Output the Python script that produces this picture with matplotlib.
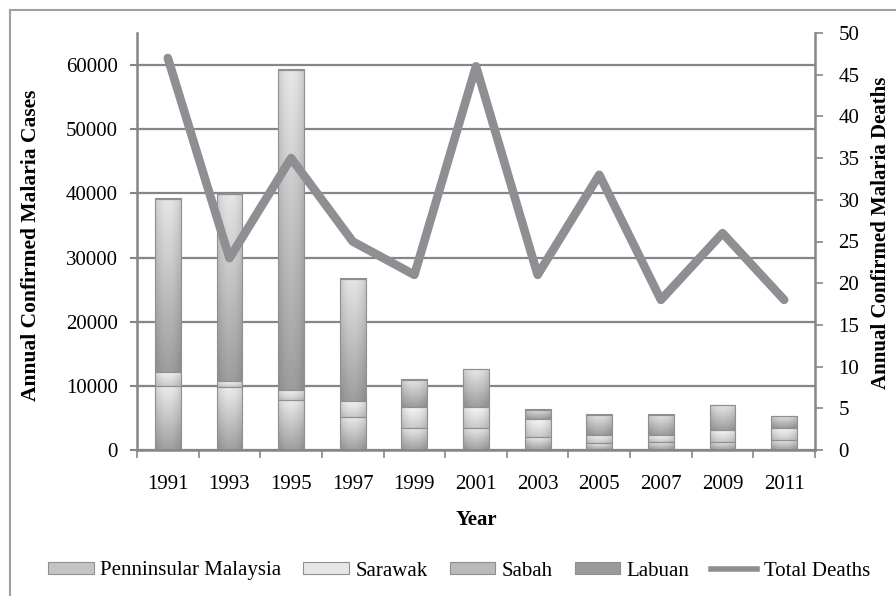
import numpy as np
import matplotlib
matplotlib.use("Agg")
import matplotlib.pyplot as plt
from matplotlib.patches import Rectangle
from matplotlib.lines import Line2D

years = ["1991", "1993", "1995", "1997", "1999", "2001", "2003", "2005", "2007", "2009", "2011"]
peninsular = [9900, 9800, 7800, 5200, 3470, 3470, 1980, 1040, 1300, 1300, 1560]
sarawak = [2200, 900, 1600, 2500, 3170, 3270, 2800, 1290, 1030, 1810, 1810]
sabah = [27050, 29280, 49900, 19020, 4300, 5900, 1510, 3190, 3190, 3860, 1900]
labuan = [150, 120, 100, 80, 60, 60, 40, 30, 30, 30, 20]
deaths = [47, 23, 35, 25, 21, 46, 21, 33, 18, 26, 18]

series_names = ["Penninsular Malaysia", "Sarawak", "Sabah", "Labuan"]

plt.rcParams['font.family'] = ['Liberation Serif', 'DejaVu Serif']

fig = plt.figure(figsize=(8.96, 5.96), dpi=100)
ax = fig.add_axes([137/896, 1-450/596, 678/896, 417/596])
ax2 = ax.twinx()

gray = '#868686'
x = np.arange(len(years))
bw = 0.42

grads = {
    0: ('#ececec', '#a0a0a0'),
    1: ('#f6f6f6', '#cacaca'),
    2: ('#e6e6e6', '#9e9e9e'),
    3: ('#bdbdbd', '#7a7a7a'),
}

def hex2rgb(h):
    return np.array([int(h[i:i+2], 16) / 255 for i in (1, 3, 5)])

bottom = np.zeros(len(years))
all_series = [peninsular, sarawak, sabah, labuan]
for si, vals in enumerate(all_series):
    vals = np.array(vals, dtype=float)
    bars = ax.bar(x, vals, bw, bottom=bottom, color='none', edgecolor='#8f8f8f',
                  linewidth=0.8, zorder=3)
    top_c, bot_c = hex2rgb(grads[si][0]), hex2rgb(grads[si][1])
    for b in bars:
        x0, y0 = b.get_x(), b.get_y()
        w, h = b.get_width(), b.get_height()
        if h <= 0:
            continue
        t = np.linspace(0, 1, 64)[:, None]
        s = np.linspace(-1, 1, 32)[None, :]
        hshade = 1 - 0.12 * (s ** 2)
        col = (bot_c[None, None, :] * (1 - t[..., None]) + top_c[None, None, :] * t[..., None])
        col = col * hshade[..., None]
        col = np.clip(col, 0, 1)
        im = ax.imshow(col, extent=[x0, x0 + w, y0, y0 + h], origin='lower',
                       aspect='auto', zorder=2.5, interpolation='bilinear')
        im.set_clip_path(b)
    bottom = bottom + vals

ax.set_xlim(-0.5, len(years) - 0.5)
ax.set_ylim(0, 65000)
ax.set_yticks(np.arange(0, 60001, 10000))
ax.set_yticklabels([str(v) for v in range(0, 60001, 10000)])
ax.yaxis.grid(True, color=gray, linewidth=1.6, zorder=0)
ax.set_axisbelow(True)

ax.set_xticks(x)
ax.set_xticklabels(years)
ax.set_xticks(np.arange(-0.5, len(years), 1), minor=True)
ax.tick_params(axis='x', which='major', length=0, pad=18, labelsize=15)
ax.tick_params(axis='x', which='minor', length=6, width=1.2, color=gray, direction='out')
ax.tick_params(axis='y', which='major', length=10, width=1.5, color=gray, direction='inout',
               labelsize=15, pad=9)

ax2.plot(x, deaths, color='#8e8f93', linewidth=6.2, solid_joinstyle='round',
         solid_capstyle='round', zorder=5)
ax2.set_ylim(0, 50)
ax2.set_yticks(np.arange(0, 51, 5))
ax2.tick_params(axis='y', length=6, width=1.2, color=gray, direction='out',
                labelsize=15, pad=11)
ax2.set_zorder(ax.get_zorder() + 1)
ax2.patch.set_visible(False)

for a in (ax, ax2):
    a.spines['top'].set_visible(False)
    for sp in ('left', 'right', 'bottom'):
        a.spines[sp].set_color(gray)
        a.spines[sp].set_linewidth(1.8)
ax2.spines['left'].set_visible(False)
ax.spines['right'].set_visible(False)
ax2.spines['bottom'].set_visible(False)

ax.set_ylabel('Annual Confirmed Malaria Cases', fontsize=15.5, fontweight='bold')
ax.yaxis.set_label_coords(-0.142, 0.49)
ax2.set_ylabel('Annual Confirmed Malaria Deaths', fontsize=15, fontweight='bold', rotation=90)
ax2.yaxis.set_label_coords(1.082, 0.52)
ax.set_xlabel('Year', fontsize=15, fontweight='bold')
ax.xaxis.set_label_coords(0.5, -0.145)

handles = [Rectangle((0, 0), 1, 1, facecolor=c, edgecolor='#8f8f8f', linewidth=0.8)
           for c in ['#c4c4c4', '#e6e6e6', '#bababa', '#9a9a9a']]
handles.append(Line2D([0], [0], color='#8e8f93', linewidth=4))
fig.legend(handles, series_names + ['Total Deaths'], loc='center',
           bbox_to_anchor=(459/896, 1-571/596), ncol=5, frameon=False,
           fontsize=15, handlelength=2.2, handleheight=0.5, handletextpad=0.3,
           columnspacing=1.05)

fig.patches.append(Rectangle((10/896, -0.1), 2, 1 - 10/596 + 0.1, transform=fig.transFigure,
                             fill=False, edgecolor='#a0a0a0', linewidth=1.5))

fig.savefig('out.png', dpi=100)
